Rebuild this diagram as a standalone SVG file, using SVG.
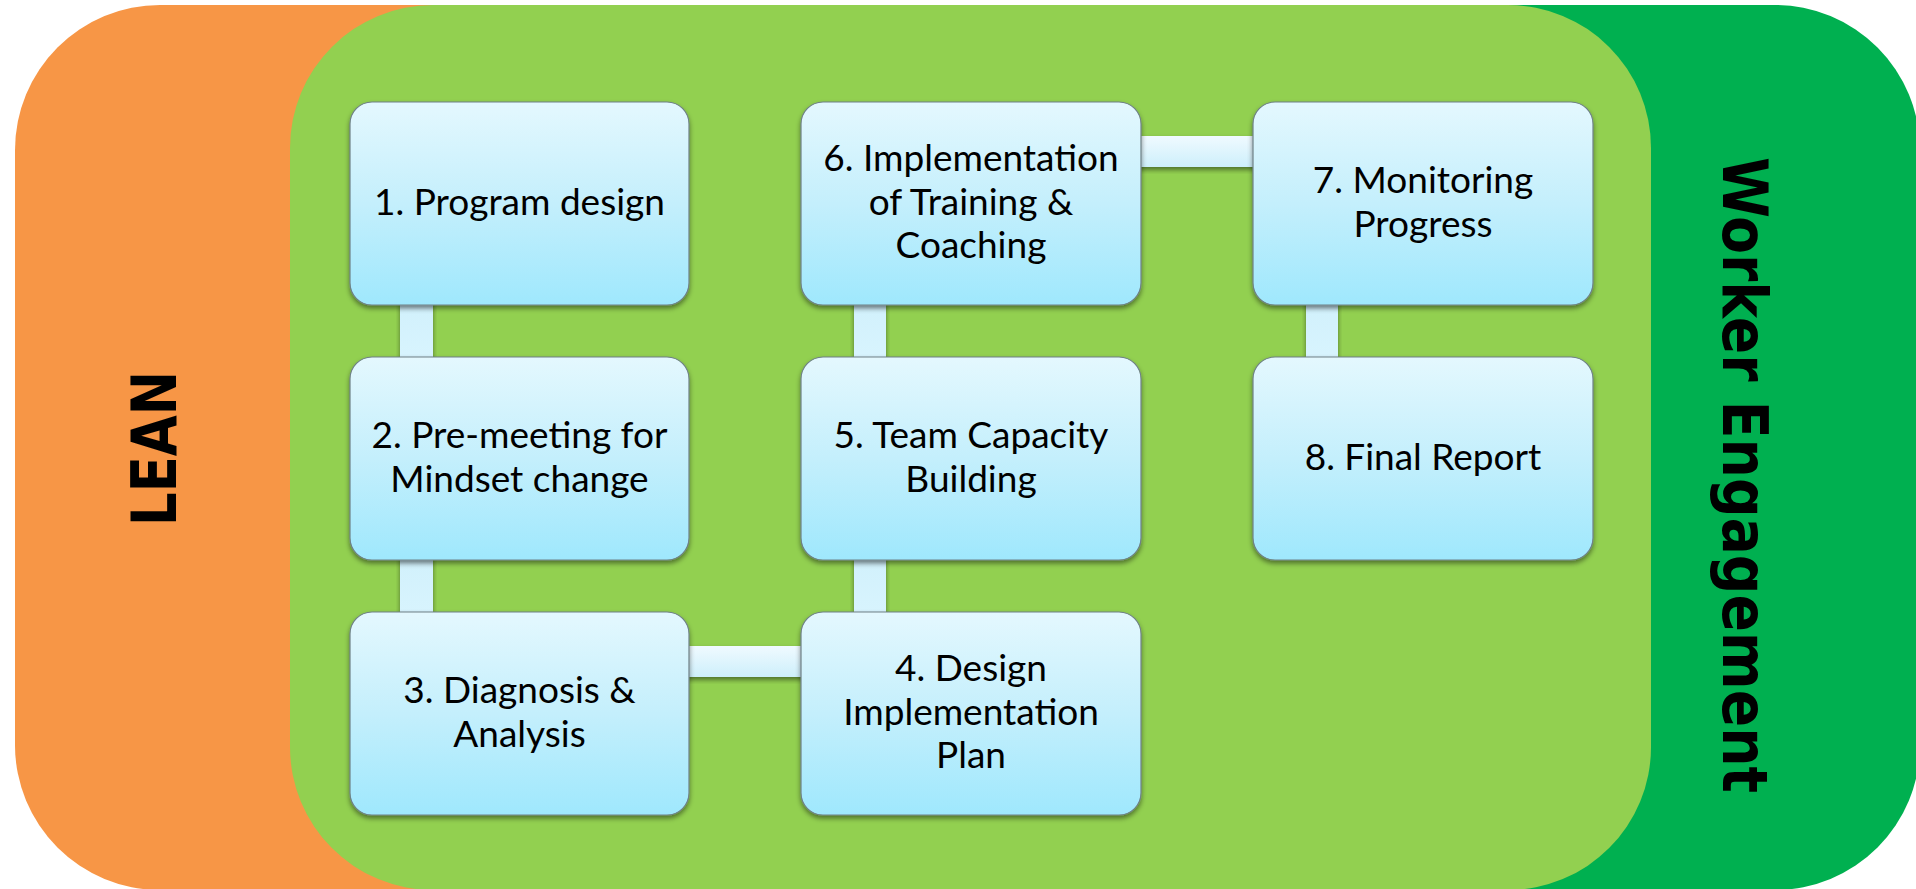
<svg xmlns="http://www.w3.org/2000/svg" width="1916" height="889" viewBox="0 0 1916 889">
<defs>
<linearGradient id="nodeGrad" x1="0" y1="0" x2="0" y2="1">
<stop offset="0" stop-color="#E4F8FE"/>
<stop offset="0.5" stop-color="#C4EFFC"/>
<stop offset="1" stop-color="#9FE8FD"/>
</linearGradient>
<linearGradient id="hGrad" x1="0" y1="0" x2="0" y2="1">
<stop offset="0" stop-color="#F0FAFF"/>
<stop offset="1" stop-color="#CDEFFB"/>
</linearGradient>
<linearGradient id="vGrad" x1="0" y1="0" x2="0" y2="1">
<stop offset="0" stop-color="#A9C3CC"/>
<stop offset="0.15" stop-color="#D2F1FC"/>
<stop offset="1" stop-color="#D8F4FE"/>
</linearGradient>
<filter id="shadow" x="-10%" y="-10%" width="120%" height="130%">
<feDropShadow dx="0" dy="3" stdDeviation="2.5" flood-color="#000" flood-opacity="0.45"/>
</filter>
</defs>
<style>
.node rect{fill:url(#nodeGrad);stroke:#6E8086;stroke-width:1.2;filter:url(#shadow)}
.node text{font-family:Lato,"Open Sans","Liberation Sans",sans-serif;font-size:37px;fill:#000;text-anchor:middle}
.hc{fill:url(#hGrad);filter:url(#shadow)}
.vc{fill:url(#vGrad);filter:url(#shadow)}
.side{font-family:"DejaVu Sans",Verdana,sans-serif;font-weight:bold;font-size:62px;fill:#000;text-anchor:middle}
</style>
<g id="background">
<rect x="15" y="5" width="1000" height="885" rx="145" ry="145" fill="#F79646"/>
<rect x="1100" y="5" width="820" height="885" rx="145" ry="145" fill="#00B050"/>
<rect x="290" y="5" width="1361" height="885" rx="143" ry="143" fill="#92D050"/>
</g>
<g id="label-lean">
<text class="side" transform="translate(152.5,448.5) rotate(-90)" x="0" y="23" textLength="155" lengthAdjust="spacingAndGlyphs">LEAN</text>
</g>
<g id="label-worker">
<text class="side" transform="translate(1745.5,475) rotate(90)" x="0" y="23" textLength="636" lengthAdjust="spacingAndGlyphs">Worker Engagement</text>
</g>
<g id="connectors">
<rect class="vc" x="400" y="300" width="33" height="62"/>
<rect class="vc" x="400" y="555" width="33" height="62"/>
<rect class="hc" x="684" y="646" width="122" height="31"/>
<rect class="vc" x="854" y="555" width="32" height="62"/>
<rect class="vc" x="854" y="300" width="32" height="62"/>
<rect class="hc" x="1136" y="136" width="122" height="31"/>
<rect class="vc" x="1306" y="300" width="32" height="62"/>
</g>
<g id="node1" class="node">
<rect x="350" y="102" width="339" height="203" rx="22"/>
<text x="519.5" y="215">1. Program design</text>
</g>
<g id="node2" class="node">
<rect x="350" y="357" width="339" height="203" rx="22"/>
<text x="519.5" y="448">2. Pre-meeting for</text>
<text x="519.5" y="492">Mindset change</text>
</g>
<g id="node3" class="node">
<rect x="350" y="612" width="339" height="203" rx="22"/>
<text x="519.5" y="703">3. Diagnosis &amp;</text>
<text x="519.5" y="747">Analysis</text>
</g>
<g id="node4" class="node">
<rect x="801" y="612" width="340" height="203" rx="22"/>
<text x="971" y="681">4. Design</text>
<text x="971" y="725">Implementation</text>
<text x="971" y="768">Plan</text>
</g>
<g id="node5" class="node">
<rect x="801" y="357" width="340" height="203" rx="22"/>
<text x="971" y="448">5. Team Capacity</text>
<text x="971" y="492">Building</text>
</g>
<g id="node6" class="node">
<rect x="801" y="102" width="340" height="203" rx="22"/>
<text x="971" y="171">6. Implementation</text>
<text x="971" y="215">of Training &amp;</text>
<text x="971" y="258">Coaching</text>
</g>
<g id="node7" class="node">
<rect x="1253" y="102" width="340" height="203" rx="22"/>
<text x="1423" y="193">7. Monitoring</text>
<text x="1423" y="237">Progress</text>
</g>
<g id="node8" class="node">
<rect x="1253" y="357" width="340" height="203" rx="22"/>
<text x="1423" y="470">8. Final Report</text>
</g>
</svg>
